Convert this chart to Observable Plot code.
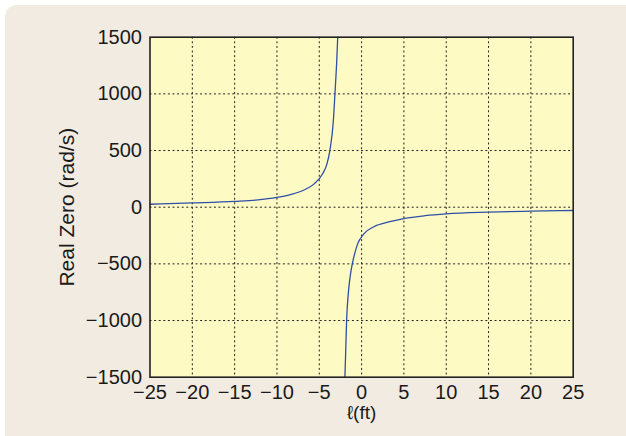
<!DOCTYPE html>
<html><head><meta charset="utf-8">
<script src="https://cdn.jsdelivr.net/npm/d3@7"></script>
<script src="https://cdn.jsdelivr.net/npm/@observablehq/plot@0.6"></script>
<style>
html,body{margin:0;padding:0;background:#fff;}
#card{position:absolute;left:5px;top:5px;width:621px;height:431px;background:#f2ebe1;border-top-left-radius:12px;}
#chart{position:absolute;left:0;top:0;}
#chart svg g[aria-label$="tick label"] text{font-size:20px;}
</style></head><body><div id="card"></div><div id="chart"></div>
<script>
// Upper branch (left of the pole)
const upperLength = [-25, -20, -15, -12.5, -10, -8.4, -6.8, -5.6, -4.6, -4.1, -3.75, -3.35, -3.15, -2.95, -2.82];
const upperZero   = [26, 38, 52, 63, 86, 112, 152, 206, 295, 380, 500, 750, 1000, 1270, 1500];
// Lower branch (right of the pole)
const lowerLength = [-1.97, -1.87, -1.77, -1.57, -1.35, -1.1, -0.8, -0.5, 0.27, 1.45, 3.2, 5, 7.5, 10, 15, 20, 25];
const lowerZero   = [-1500, -1250, -1000, -760, -610, -500, -405, -330, -235, -172, -130, -100, -75, -59, -44, -35, -29];

const xTicks = [-25, -20, -15, -10, -5, 0, 5, 10, 15, 20, 25];
const yTicks = [-1500, -1000, -500, 0, 500, 1000, 1500];
const xLabel = "ℓ(ft)";
const yLabel = "Real Zero (rad/s)";

const data = [
  ...upperLength.map((l, i) => ({l, v: upperZero[i], branch: "upper"})),
  ...lowerLength.map((l, i) => ({l, v: lowerZero[i], branch: "lower"}))
];
const fmt = d3.format("d");

const chart = Plot.plot({
  width: 626,
  height: 436,
  marginLeft: 149.5,
  marginRight: 53.3,
  marginTop: 36.7,
  marginBottom: 59.3,
  style: {background: "transparent", fontFamily: "'Liberation Sans', Arial, sans-serif", fontSize: "20px", color: "#1a1a1a"},
  x: {domain: [-25, 25]},
  y: {domain: [-1500, 1500]},
  marks: [
    Plot.frame({fill: "#fefac4", stroke: null}),
    Plot.gridX(xTicks.slice(1, -1), {stroke: "#222", strokeOpacity: 1, strokeWidth: 1, strokeDasharray: "2,2.6"}),
    Plot.gridY(yTicks.slice(1, -1), {stroke: "#222", strokeOpacity: 1, strokeWidth: 1, strokeDasharray: "2,2.6"}),
    Plot.line(data, {x: "l", y: "v", z: "branch", stroke: "#2f4fa8", strokeWidth: 1.3, curve: "monotone-x"}),
    Plot.axisX(xTicks, {tickSize: 0, tickPadding: 8, tickFormat: fmt, label: null, fontSize: 20}),
    Plot.axisY(yTicks, {tickSize: 0, tickPadding: 8, tickFormat: fmt, label: null, fontSize: 20}),
    Plot.frame({stroke: "#222", strokeWidth: 1.6}),
    Plot.text([yLabel], {text: d => d, frameAnchor: "left", textAnchor: "middle", dx: -83, rotate: -90, fontSize: 21}),
    Plot.text([xLabel], {text: d => d, frameAnchor: "bottom", textAnchor: "middle", dy: 42, fontSize: 19})
  ]
});
document.getElementById("chart").appendChild(chart);
</script>
</body></html>
